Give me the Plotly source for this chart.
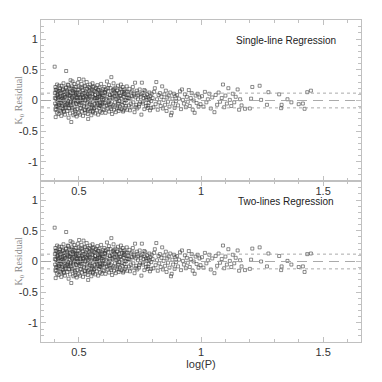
import plotly.graph_objects as go
from plotly.subplots import make_subplots

# ---------------- data ----------------
log_p = [
    0.401,0.402,0.403,0.404,0.405,0.406,0.407,0.408,0.409,0.410,
    0.411,0.412,0.413,0.414,0.416,0.417,0.418,0.419,0.421,0.422,
    0.423,0.424,0.426,0.427,0.428,0.429,0.431,0.432,0.433,0.434,
    0.436,0.437,0.438,0.439,0.441,0.442,0.443,0.444,0.446,0.447,
    0.448,0.449,0.451,0.452,0.453,0.454,0.456,0.457,0.458,0.459,
    0.461,0.462,0.463,0.464,0.466,0.467,0.468,0.469,0.471,0.472,
    0.473,0.474,0.476,0.477,0.478,0.479,0.481,0.482,0.483,0.484,
    0.486,0.487,0.488,0.489,0.491,0.492,0.493,0.494,0.496,0.497,
    0.498,0.499,
    0.405,0.415,0.425,0.435,0.445,0.455,0.465,0.475,0.485,0.495,
    0.409,0.419,0.429,0.439,0.449,0.459,0.469,0.479,0.489,0.499,
    0.501,0.502,0.503,0.504,0.506,0.507,0.508,0.509,0.511,0.512,
    0.513,0.514,0.516,0.517,0.518,0.519,0.521,0.522,0.523,0.524,
    0.526,0.527,0.528,0.529,0.531,0.532,0.533,0.534,0.536,0.537,
    0.538,0.539,0.541,0.542,0.543,0.544,0.546,0.547,0.548,0.549,
    0.551,0.552,0.553,0.554,0.556,0.557,0.558,0.559,0.561,0.562,
    0.563,0.564,0.566,0.567,0.568,0.569,0.571,0.572,0.573,0.574,
    0.576,0.577,0.578,0.579,0.581,0.582,0.583,0.584,0.586,0.587,
    0.588,0.589,0.591,0.592,0.593,0.594,0.596,0.597,0.598,0.599,
    0.505,0.515,0.525,0.535,0.545,0.555,0.565,0.575,0.585,0.595,
    0.601,0.603,0.604,0.606,0.607,0.609,0.611,0.612,0.614,0.615,
    0.617,0.618,0.620,0.621,0.623,0.624,0.626,0.627,0.629,0.630,
    0.632,0.633,0.635,0.636,0.638,0.639,0.641,0.642,0.644,0.645,
    0.647,0.648,0.650,0.651,0.653,0.654,0.656,0.657,0.659,0.660,
    0.662,0.663,0.665,0.666,0.668,0.669,0.671,0.672,0.674,0.675,
    0.677,0.678,0.680,0.681,0.683,0.684,0.686,0.687,0.689,0.690,
    0.692,0.693,0.695,0.696,0.698,0.699,
    0.605,0.625,0.645,0.665,0.685,
    0.702,0.704,0.707,0.709,0.711,0.714,0.716,0.718,0.721,0.723,
    0.725,0.728,0.730,0.732,0.735,0.737,0.739,0.742,0.744,0.746,
    0.749,0.751,0.753,0.756,0.758,0.760,0.763,0.765,0.768,0.770,
    0.772,0.775,0.777,0.779,0.782,0.784,0.786,0.789,0.791,0.793,
    0.796,0.798,
    0.802,0.805,0.808,0.811,0.814,0.817,0.820,0.823,0.826,0.829,
    0.832,0.835,0.838,0.841,0.844,0.847,0.850,0.853,0.856,0.859,
    0.862,0.865,0.868,0.871,0.874,0.877,0.880,0.883,0.886,0.889,
    0.892,0.895,0.898,
    0.902,0.906,0.910,0.914,0.918,0.922,0.926,0.930,0.934,0.938,
    0.942,0.946,0.950,0.954,0.958,0.962,0.966,0.970,0.974,0.978,
    0.982,0.986,0.990,0.994,0.998,
    1.004,1.010,1.016,1.022,1.028,1.034,1.040,1.046,1.055,1.060,
    1.066,1.072,1.078,1.085,1.090,1.095,1.100,1.106,1.112,1.118,
    1.124,1.130,1.136,1.142,1.150,1.156,1.160,1.166,
    1.180,1.200,1.205,1.210,1.240,1.246,1.270,1.276,1.320,1.328,
    1.330,1.354,1.370,1.400,1.417,1.424,1.435,1.450,
]

resid_single = [
    0.55,0.12,-0.05,0.22,-0.27,0.03,-0.14,0.18,0.08,-0.20,
    0.26,-0.02,0.10,-0.10,0.05,-0.22,0.15,-0.07,0.01,0.20,
    -0.16,0.07,-0.04,0.13,-0.25,0.24,-0.09,0.04,0.17,-0.13,
    0.00,0.28,-0.19,0.09,-0.03,0.14,-0.23,0.06,0.21,-0.11,
    0.48,0.02,-0.06,0.16,-0.17,0.11,-0.01,0.25,-0.28,0.08,
    -0.12,0.19,0.03,-0.21,0.33,-0.08,0.12,-0.35,0.05,0.23,
    -0.15,0.31,-0.03,0.15,-0.24,0.07,0.27,-0.10,0.01,0.18,
    -0.18,0.10,-0.05,0.22,-0.26,0.04,0.13,-0.14,0.29,-0.02,
    0.09,-0.20,
    0.17,0.09,-0.12,0.19,-0.08,0.26,-0.05,0.12,-0.22,0.06,
    -0.10,0.24,0.02,-0.17,0.14,-0.13,0.20,-0.01,0.05,0.17,
    0.35,-0.07,0.14,-0.23,0.05,0.21,-0.12,0.02,0.27,-0.18,
    0.09,-0.03,0.17,-0.25,0.06,0.34,-0.09,0.12,-0.15,0.24,
    0.00,-0.20,0.15,0.07,-0.11,0.30,-0.04,0.19,-0.22,0.10,
    -0.30,0.03,0.22,-0.14,0.08,-0.06,0.26,-0.17,0.13,0.01,
    -0.24,0.18,-0.08,0.11,0.28,-0.02,-0.19,0.06,0.16,-0.13,
    0.23,-0.05,0.09,-0.21,0.04,0.20,-0.10,0.14,-0.16,0.02,
    0.25,-0.07,0.11,-0.23,0.17,0.00,-0.12,0.21,0.07,-0.18,
    0.13,-0.03,0.27,-0.09,0.05,-0.20,0.15,0.01,-0.14,0.19,
    -0.01,0.11,-0.16,0.06,0.20,-0.11,0.03,-0.04,0.10,-0.06,
    0.08,-0.15,0.22,-0.04,0.12,-0.20,0.03,0.18,-0.09,0.31,
    0.06,-0.13,0.15,-0.02,0.25,-0.18,0.09,0.01,-0.11,0.20,
    -0.06,0.38,0.11,-0.22,0.04,0.17,-0.08,0.28,-0.15,0.07,
    0.13,-0.03,0.21,-0.19,0.02,0.10,-0.12,0.16,-0.05,0.24,
    0.05,-0.17,0.12,-0.01,0.19,-0.10,0.08,0.26,-0.14,0.03,
    0.14,-0.07,0.22,-0.18,0.06,0.11,-0.04,0.18,-0.12,0.01,
    0.15,-0.09,0.09,0.23,-0.15,0.04,
    0.14,-0.07,0.19,-0.13,0.13,
    0.10,-0.08,0.19,-0.16,0.03,0.13,-0.11,0.07,0.22,-0.03,
    0.11,-0.19,0.29,0.05,-0.07,0.16,-0.13,0.02,0.09,-0.10,
    0.18,-0.02,0.06,-0.23,0.29,0.12,-0.05,0.04,-0.14,0.08,
    0.15,-0.09,0.01,0.10,-0.12,0.05,-0.04,0.13,-0.16,0.07,
    -0.01,0.11,
    0.04,-0.11,0.14,0.20,-0.06,0.30,0.02,-0.15,0.09,-0.03,
    0.12,-0.09,0.06,0.23,-0.13,0.01,0.10,-0.07,0.16,-0.17,
    0.05,-0.02,0.08,-0.10,0.13,-0.24,-0.20,0.03,-0.05,0.11,
    -0.12,0.07,-0.01,
    0.09,-0.08,0.03,0.15,-0.14,0.18,0.01,-0.05,0.10,-0.11,
    0.06,-0.02,0.17,-0.09,0.04,0.12,-0.15,0.00,-0.20,0.08,
    -0.04,0.11,-0.10,0.05,-0.06,
    0.07,-0.10,0.14,-0.03,0.02,0.11,-0.13,0.05,-0.19,0.09,
    -0.07,0.13,-0.02,0.04,0.26,-0.11,0.08,-0.05,0.20,0.01,
    -0.09,0.11,-0.03,0.06,0.18,-0.15,0.02,-0.08,
    -0.135,-0.13,0.03,0.22,0.24,0.01,-0.07,0.135,0.10,-0.125,
    -0.07,0.02,-0.03,-0.06,-0.05,-0.135,0.135,0.16,
]

# additional stars in the crowded short-period part of the cloud
log_p_dense = [
    0.402,0.407,0.412,0.418,0.423,0.428,0.433,0.438,0.443,0.448,
    0.453,0.458,0.463,0.468,0.473,0.478,0.483,0.488,0.493,0.498,
    0.404,0.414,0.424,0.434,0.444,0.454,0.464,0.474,0.484,0.494,
    0.503,0.508,0.513,0.518,0.523,0.528,0.533,0.538,0.543,0.548,
    0.553,0.558,0.563,0.568,0.573,0.578,0.583,0.588,0.593,0.598,
    0.506,0.516,0.526,0.536,0.546,0.556,0.566,0.576,0.586,0.596,
    0.603,0.608,0.613,0.618,0.623,0.628,0.633,0.638,0.643,0.648,
    0.653,0.658,0.663,0.668,0.673,0.678,0.683,0.688,0.693,0.698,
    0.705,0.712,0.719,0.726,0.733,0.740,0.747,0.754,0.761,0.768,
    0.775,0.782,0.789,0.796,
]
resid_dense = [
    0.04,-0.09,0.16,-0.04,0.11,-0.18,0.07,0.02,-0.12,0.21,
    0.09,-0.07,0.14,-0.02,0.05,0.19,-0.15,0.12,-0.06,0.23,
    -0.15,0.02,0.16,-0.06,0.10,-0.04,0.08,-0.12,0.13,0.00,
    0.10,-0.04,0.20,0.01,-0.10,0.13,0.05,-0.15,0.16,-0.07,
    0.03,0.22,-0.12,0.09,-0.01,0.18,0.06,-0.09,0.12,-0.03,
    -0.13,0.04,0.23,-0.02,0.11,-0.17,0.15,0.05,-0.08,0.09,
    0.02,0.13,-0.07,0.20,-0.01,0.09,-0.14,0.06,0.15,-0.10,
    0.12,0.03,-0.05,0.08,0.18,-0.02,-0.16,0.10,0.00,0.14,
    0.04,-0.05,0.15,0.08,-0.11,0.12,-0.06,0.10,-0.02,0.17,
    0.05,-0.08,0.02,-0.12,
]

# two-lines regression: same stars; residuals differ only in the long-period tail
resid_two_tail = [
    -0.14,-0.12,0.03,0.21,0.23,0.00,-0.08,0.13,0.09,-0.14,
    -0.08,0.01,-0.05,-0.09,-0.08,-0.17,0.12,0.13,
]
resid_two = resid_single[:len(resid_single) - len(resid_two_tail)] + resid_two_tail

band_levels = [0.12, 0.0, -0.12]
band_dash = ["dot", "dash", "dot"]
x_ticks = [0.5, 1, 1.5]
x_tick_text = ["0.5", "1", "1.5"]
y_ticks = [-1, -0.5, 0, 0.5, 1]
y_tick_text = ["-1", "-0.5", "0", "0.5", "1"]
panel_titles = ["Single-line Regression", "Two-lines Regression"]
y_title = "K<sub>0</sub> Residual"

# ---------------- figure ----------------
fig = make_subplots(rows=2, cols=1, vertical_spacing=0.0)

marker = dict(symbol="square-open", size=3, color="rgba(50,50,50,0.7)",
              line=dict(width=0.8, color="rgba(50,50,50,0.7)"))

for r, ys in enumerate([resid_single, resid_two], start=1):
    fig.add_trace(go.Scatter(x=log_p, y=ys, mode="markers", marker=marker,
                             showlegend=False, hoverinfo="skip"), row=r, col=1)
    fig.add_trace(go.Scatter(x=log_p_dense, y=resid_dense, mode="markers", marker=marker,
                             showlegend=False, hoverinfo="skip"), row=r, col=1)
    for lvl, d in zip(band_levels, band_dash):
        fig.add_hline(y=lvl, line=dict(color="#a0a0a0", width=0.9,
                                       dash="dot" if d == "dot" else "10px,6px"),
                      row=r, col=1)

axis_common = dict(
    showline=True, linecolor="#c0c0c0", linewidth=1, mirror="allticks",
    ticks="inside", ticklen=5, tickcolor="#c0c0c0", tickwidth=1,
    showgrid=False, zeroline=False, automargin=False,
    tickfont=dict(family="Liberation Sans, Arial", size=11, color="#333"),
    minor=dict(ticks="inside", ticklen=3, tickcolor="#c0c0c0", showgrid=False),
)

for r in (1, 2):
    fig.update_xaxes(range=[0.345, 1.655], tickmode="array", tickvals=x_ticks,
                     ticktext=x_tick_text, minor_dtick=0.1, minor_tick0=0,
                     **axis_common, row=r, col=1)
    fig.update_yaxes(range=[-1.31, 1.31], tickmode="array", tickvals=y_ticks,
                     ticktext=y_tick_text, minor_dtick=0.1, minor_tick0=0,
                     **axis_common, row=r, col=1)

fig.update_xaxes(title=dict(text="log(P)", standoff=0,
                            font=dict(family="Liberation Sans, Arial", size=11, color="#333")),
                 row=2, col=1)

for r, t in enumerate(panel_titles, start=1):
    ref = "" if r == 1 else "2"
    fig.add_annotation(text=t, xref=f"x{ref} domain", yref=f"y{ref} domain",
                       x=0.765, y=0.875, showarrow=False,
                       xanchor="center", yanchor="middle",
                       font=dict(family="Liberation Sans, Arial", size=10, color="#222"))
    # rotated y-axis title, placed like the reference
    fig.add_annotation(text=y_title, xref="paper", yref=f"y{ref} domain",
                       x=-0.066, y=0.5, showarrow=False, textangle=-90,
                       xanchor="center", yanchor="middle",
                       font=dict(family="Liberation Serif, serif", size=10, color="#8a8a8a"))

# the page body adds an 8px offset, so the figure is sized to place the axes as in the reference
fig.update_layout(width=366, height=366, margin=dict(l=33, r=13, t=12, b=32),
                  plot_bgcolor="white", paper_bgcolor="white")

fig.write_html("out.html")
